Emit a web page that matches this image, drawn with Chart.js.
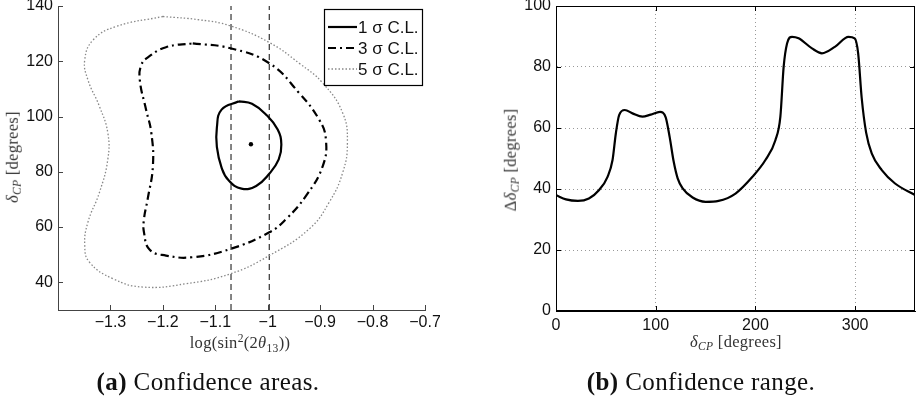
<!DOCTYPE html>
<html>
<head>
<meta charset="utf-8">
<script src="https://cdn.jsdelivr.net/npm/chart.js@4"></script>
<style>
  body { margin: 0; background: #fff; }
  #page { position: relative; width: 919px; height: 400px; overflow: hidden; }
  .box { position: absolute; }
  .lbl { position: absolute; font-family: "Liberation Serif", serif; color: #333; white-space: nowrap;
         transform: translate(-50%, -50%); font-size: 16.5px; letter-spacing: 0.3px; }
  .ylbl { transform: translate(-50%, -50%) rotate(-90deg); }
  .cap { position: absolute; font-family: "Liberation Serif", serif; color: #111; white-space: nowrap;
         transform: translate(-50%, -50%); font-size: 25px; letter-spacing: 0.4px; }
  sub { font-size: 70%; vertical-align: -0.3em; }
  sup { font-size: 70%; vertical-align: 0.5em; }
  i { font-style: italic; }
</style>
</head>
<body>
<div id="page">
  <div class="box" style="left:0;top:0;width:440px;height:340px;"><canvas id="areas"></canvas></div>
  <div class="box" style="left:500px;top:0;width:419px;height:340px;"><canvas id="range"></canvas></div>

  <div class="lbl ylbl" style="left:13px;top:157px;"><i>δ<sub>CP</sub></i> [degrees]</div>
  <div class="lbl" style="left:240px;top:343px;">log(sin<sup>2</sup>(2<i>θ</i><sub>13</sub>))</div>
  <div class="cap" style="left:208px;top:382px;"><b>(a)</b> Confidence areas.</div>

  <div class="lbl ylbl" style="left:511px;top:160px;">Δ<i>δ<sub>CP</sub></i> [degrees]</div>
  <div class="lbl" style="left:736px;top:342px;"><i>δ<sub>CP</sub></i> [degrees]</div>
  <div class="cap" style="left:701px;top:382px;"><b>(b)</b> Confidence range.</div>
</div>
<script>
// ---- data ----
// (a) confidence contours in (log sin^2(2 theta13), delta_CP)
const sigma1X = [-1.055, -1.088, -1.097, -1.097, -1.088, -1.075, -1.050, -1.022, -0.997, -0.979, -0.974, -0.981, -1.002, -1.030];
const sigma1Y = [105.5, 102.5, 96.0, 89.0, 81.5, 77.0, 73.9, 74.9, 79.3, 84.5, 89.9, 95.3, 100.5, 104.6];

const sigma3X = [-1.143, -1.071, -0.997, -0.940, -0.902, -0.889, -0.895, -0.927, -0.965, -0.997, -1.071, -1.143,
                 -1.194, -1.225, -1.236, -1.236, -1.229, -1.219, -1.222, -1.232, -1.244, -1.241, -1.228, -1.194];
const sigma3Y = [126.5, 124.7, 119.3, 108.5, 98.9, 91.7, 82.1, 71.3, 62.9, 58.1, 52.1, 49.1,
                 49.7, 51.8, 58.1, 62.9, 70.1, 82.1, 94.1, 102.5, 113.3, 118.7, 121.5, 125.1];

const sigma5X = [-1.200, -1.130, -1.071, -0.997, -0.940, -0.895, -0.857, -0.848, -0.857, -0.883, -0.921, -0.997,
                 -1.071, -1.156, -1.238, -1.295, -1.340, -1.349, -1.343, -1.321, -1.305, -1.305, -1.321, -1.343,
                 -1.349, -1.333, -1.289];
const sigma5Y = [136.2, 135.0, 132.8, 126.8, 119.3, 112.1, 101.3, 90.5, 79.7, 68.9, 59.3, 49.7,
                 43.1, 39.5, 38.3, 41.3, 47.3, 53.3, 61.7, 72.5, 84.5, 94.1, 103.7, 113.3,
                 120.5, 127.7, 132.6];

const bestFit = { x: -1.032, y: 90 };
const boundX = [-1.070, -0.997];

const areaXTicks = [-1.3, -1.2, -1.1, -1.0, -0.9, -0.8, -0.7];
const areaYTicks = [40, 60, 80, 100, 120, 140];
const legendLabels = ['1 \u03C3 C.L.', '3 \u03C3 C.L.', '5 \u03C3 C.L.'];

// (b) width of the delta_CP confidence range
const rangeX = [0, 10, 22, 33, 43, 51.7, 56.7, 60, 63.3, 69, 76.7, 86.7, 95, 104.3, 110, 114, 118, 122, 127, 137, 150,
                163, 180, 197, 210, 220, 225, 228.3, 231.7, 236.7, 243.3, 256.7, 266.7, 280, 293.3, 299.5, 303,
                306.5, 311, 316.7, 326.7, 340, 360];
const rangeY = [38.0, 36.6, 36.1, 36.9, 39.6, 44.0, 49.5, 58.2, 64.2, 65.9, 64.8, 63.7, 64.4, 65.3, 63.5, 57.0, 49.0, 43.5,
                40.2, 37.2, 35.8, 36.1, 38.5, 44.0, 49.5, 56.0, 63.7, 80.1, 87.7, 89.9, 89.4, 86.1, 84.5, 86.7, 89.9, 89.4, 84.5,
                70.0, 58.5, 51.6, 46.2, 41.8, 38.0];

const rangeXTicks = [0, 100, 200, 300];
const rangeYTicks = [0, 20, 40, 60, 80, 100];

// ---- helpers ----
function loop(xs, ys) {
    const pts = xs.map((x, i) => ({ x: x, y: ys[i] }));
    pts.push(pts[0]);
    return pts;
}
function fmt(v) {
    const r = Math.round(v * 10) / 10;
    return r < 0 ? '\u2212' + Math.abs(r) : String(r);
}
// keep the plot area where the figure has it, labels may overhang
function noPadY(s, w) { s.width = w; s.paddingTop = 0; s.paddingBottom = 0; }
function noPadX(s, h) { s.height = h; s.paddingLeft = 0; s.paddingRight = 0; }

// inward MATLAB style ticks, optional full box
const frameTicks = {
    id: 'frameTicks',
    afterDatasetsDraw(chart, args, opts) {
        const { ctx, chartArea: a, scales } = chart;
        ctx.save();
        ctx.strokeStyle = opts.color;
        ctx.lineWidth = 1;
        ctx.setLineDash([]);
        if (opts.box) ctx.strokeRect(a.left + 0.5, a.top + 0.5, a.right - a.left - 1, a.bottom - a.top - 1);
        ctx.beginPath();
        scales.x.ticks.forEach(t => {
            const px = Math.round(scales.x.getPixelForValue(t.value)) + 0.5;
            ctx.moveTo(px, a.bottom); ctx.lineTo(px, a.bottom - 5);
            if (opts.box) { ctx.moveTo(px, a.top); ctx.lineTo(px, a.top + 5); }
        });
        scales.y.ticks.forEach(t => {
            const py = Math.round(scales.y.getPixelForValue(t.value)) + 0.5;
            ctx.moveTo(a.left, py); ctx.lineTo(a.left + 5, py);
            if (opts.box) { ctx.moveTo(a.right, py); ctx.lineTo(a.right - 5, py); }
        });
        ctx.stroke();
        ctx.restore();
    }
};

// boxed legend in the top right corner
const boxLegend = {
    id: 'boxLegend',
    afterDraw(chart, args, opts) {
        const { ctx, chartArea: a } = chart;
        const w = 98, h = 76, x0 = a.right - w - 3, y0 = a.top + 3;
        ctx.save();
        ctx.fillStyle = '#fff';
        ctx.fillRect(x0, y0, w, h);
        ctx.strokeStyle = '#000';
        ctx.lineWidth = 1.2;
        ctx.setLineDash([]);
        ctx.strokeRect(x0 + 0.5, y0 + 0.5, w, h);
        ctx.font = '17px "Liberation Sans", Arial, sans-serif';
        ctx.textBaseline = 'middle';
        opts.items.forEach((idx, i) => {
            const ds = chart.data.datasets[idx];
            const yy = y0 + 18 + i * 21;
            ctx.strokeStyle = ds.borderColor;
            ctx.lineWidth = ds.borderWidth;
            ctx.setLineDash(ds.borderDash || []);
            ctx.beginPath();
            ctx.moveTo(x0 + 4, yy); ctx.lineTo(x0 + 33, yy);
            ctx.stroke();
            ctx.fillStyle = '#111';
            ctx.fillText(ds.label, x0 + 34, yy + 1);
        });
        ctx.restore();
    }
};

const tickFont = { family: '"Liberation Sans", Arial, sans-serif', size: 16 };

// ---- (a) confidence areas ----
new Chart(document.getElementById('areas'), {
    type: 'scatter',
    data: {
        datasets: [
            { label: legendLabels[0], data: loop(sigma1X, sigma1Y), showLine: true, tension: 0.45,
              borderColor: '#000', borderWidth: 2.2, pointRadius: 0 },
            { label: legendLabels[1], data: loop(sigma3X, sigma3Y), showLine: true, tension: 0.45,
              borderColor: '#000', borderWidth: 2.2, borderDash: [8, 4, 2, 4], pointRadius: 0 },
            { label: legendLabels[2], data: loop(sigma5X, sigma5Y), showLine: true, tension: 0.45,
              borderColor: '#888', borderWidth: 1.3, borderDash: [1.5, 2], pointRadius: 0 },
            { label: 'lo', data: [{ x: boundX[0], y: 30 }, { x: boundX[0], y: 140 }], showLine: true,
              borderColor: '#333', borderWidth: 1.2, borderDash: [6, 4], pointRadius: 0 },
            { label: 'hi', data: [{ x: boundX[1], y: 30 }, { x: boundX[1], y: 140 }], showLine: true,
              borderColor: '#333', borderWidth: 1.2, borderDash: [6, 4], pointRadius: 0 },
            { label: 'best', data: [bestFit], pointRadius: 2.2, pointBackgroundColor: '#000', pointBorderWidth: 0 }
        ]
    },
    options: {
        responsive: true,
        maintainAspectRatio: false,
        animation: false,
        layout: { padding: { top: 6, right: 15, left: 0, bottom: 0 } },
        plugins: {
            legend: { display: false },
            tooltip: { enabled: false },
            frameTicks: { box: false, color: '#444' },
            boxLegend: { items: [0, 1, 2] }
        },
        scales: {
            x: {
                type: 'linear', min: -1.4, max: -0.7,
                afterBuildTicks: s => { s.ticks = areaXTicks.map(v => ({ value: v })); },
                afterFit: s => noPadX(s, 30),
                grid: { display: false, drawTicks: false },
                border: { display: true, color: '#444', width: 1 },
                ticks: { font: tickFont, color: '#111', padding: 3, maxRotation: 0, callback: fmt }
            },
            y: {
                type: 'linear', min: 30, max: 140,
                afterBuildTicks: s => { s.ticks = areaYTicks.map(v => ({ value: v })); },
                afterFit: s => noPadY(s, 58),
                grid: { display: false, drawTicks: false },
                border: { display: true, color: '#444', width: 1 },
                ticks: { font: tickFont, color: '#111', padding: 5, callback: fmt }
            }
        }
    },
    plugins: [frameTicks, boxLegend]
});

// ---- (b) confidence range ----
new Chart(document.getElementById('range'), {
    type: 'scatter',
    data: {
        datasets: [{
            label: 'range',
            data: rangeX.map((x, i) => ({ x: x, y: rangeY[i] })),
            showLine: true,
            cubicInterpolationMode: 'monotone',
            borderColor: '#000', borderWidth: 2.2, pointRadius: 0
        }]
    },
    options: {
        responsive: true,
        maintainAspectRatio: false,
        animation: false,
        layout: { padding: { top: 6, right: 4, left: 0, bottom: 0 } },
        plugins: {
            legend: { display: false },
            tooltip: { enabled: false },
            frameTicks: { box: true, color: '#000' }
        },
        scales: {
            x: {
                type: 'linear', min: 0, max: 360,
                afterBuildTicks: s => { s.ticks = rangeXTicks.map(v => ({ value: v })); },
                afterFit: s => noPadX(s, 29),
                grid: { display: true, color: '#999', lineWidth: 1, drawTicks: false },
                border: { display: true, color: '#000', width: 1, dash: [1, 3] },
                ticks: { font: tickFont, color: '#111', padding: 5, maxRotation: 0, callback: fmt }
            },
            y: {
                type: 'linear', min: 0, max: 100,
                afterBuildTicks: s => { s.ticks = rangeYTicks.map(v => ({ value: v })); },
                afterFit: s => noPadY(s, 56),
                grid: { display: true, color: '#999', lineWidth: 1, drawTicks: false },
                border: { display: true, color: '#000', width: 1, dash: [1, 3] },
                ticks: { font: tickFont, color: '#111', padding: 5, callback: fmt }
            }
        }
    },
    plugins: [frameTicks]
});
</script>
</body>
</html>
